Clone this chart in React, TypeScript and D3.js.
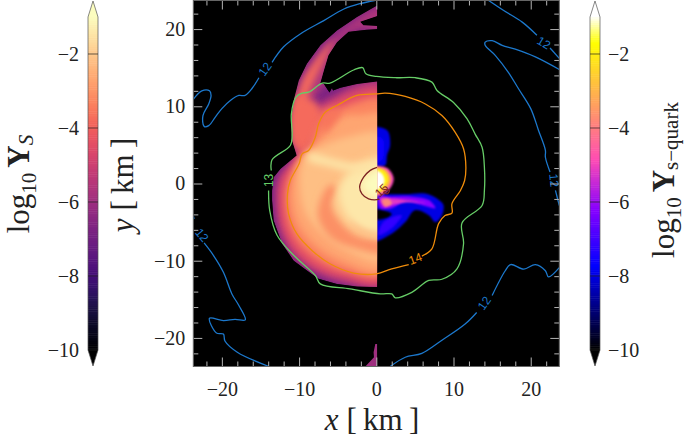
import { useEffect, useRef } from "react";
import * as d3 from "d3";

type Pt = [number, number];

const WIDTH = 685;
const HEIGHT = 435;

const axisMajor = [-20, -10, 0, 10, 20];
const axisMinor = d3.range(-22, 23, 2).filter((d) => d % 10 !== 0);
const barTicks = [-2, -4, -6, -8, -10];

// gnuplot2 colormap stops
const gnuplotStops = [0, 0.25, 0.42, 0.57, 0.92, 1];
const gnuplotColors = ["#000000", "#0000ff", "#8700ff", "#ff4cb3", "#ffff00", "#ffffff"];

// left half: log10 Y_S, outline of the ejecta in km
const armAndDisc: Pt[] = [
  [0.1, 23.06], [-2.5, 21.55], [-5.1, 19.8], [-7.25, 17.9], [-9, 15.5], [-10.05, 13.35], [-10.7, 10.75],
  [-11.05, 8.16], [-10.9, 5.57], [-10.3, 3.63], [-11.1, 2.98], [-12.4, 1.9], [-13.3, 0.82], [-13.5, -0.9],
  [-13.5, -2.2], [-13.3, -4.8], [-12.2, -7.8], [-10.7, -10], [-8.1, -11.9], [-7.5, -12.35], [-5.1, -13],
  [-2.5, -13.35], [0.1, -13.4], [0.1, 13.2], [-2.5, 12.9], [-4.66, 12.4], [-5.6, 12.05], [-5.74, 12.4],
  [-6.05, 11.8], [-6.8, 12.9], [-7.25, 13], [-6.8, 14.6], [-6.2, 16.6], [-5.1, 18.3], [-3.6, 19.66],
  [-1.25, 19.9], [0.1, 20], [0.1, 20.4], [-1.68, 20.5], [-2.1, 20.96], [0.1, 21.7],
];
const bottomPatch: Pt[] = [[0.1, -20.8], [-0.13, -20.8], [-0.35, -21.85], [-0.3, -22.5], [-1.42, -23.7], [0.1, -23.7]];
const outlineValue = -6.8;
const bottomPatchValue = -6;

const leftValues = [-5.7, -3.8, -5.4, -4.4, -3.8, -3.3, -2.7, -3.6, -2.2, -3.1, -1.9, -2.7, -1.45, -1.5, -1.05];
const leftBlobs: Pt[][] = [
  [[1, 23], [-5, 19.5], [-8, 16], [-10, 12.5], [-10.8, 8], [-10.5, 4], [-8, 6], [-8, 11], [-6.5, 13], [-6, 16], [-4, 19], [-2, 20], [1, 19.9]],
  [[-5.5, 18.6], [-8, 15.8], [-9.7, 13], [-10.5, 9], [-10.5, 5], [-9.2, 5], [-9.2, 9], [-8.8, 11.5], [-7.5, 14.5]],
  [[1, 13], [-3, 12.7], [-5, 11.6], [-7, 10.6], [-9, 9], [-10, 5], [-11, 3], [-12.8, 0.5], [-13, -3], [-12.5, -6], [-11, -9], [-8, -11.4], [-4, -12.9], [1, -13.1]],
  [[1, 12], [-3, 11.7], [-5, 10.8], [-7.5, 9], [-8.7, 7], [-9.5, 5], [-10.5, 3], [-12.2, 0.5], [-12.5, -3], [-12, -6], [-10.5, -8.7], [-8, -10.8], [-4, -12.2], [1, -12.6]],
  [[-10.3, 11.46], [-10.97, 9.74], [-11.05, 7.15], [-10.3, 4.56], [-9.67, 3.9], [-7.94, 6.28], [-7.08, 8.87], [-7.94, 10.6], [-9.24, 11.03]],
  [[1, 10.8], [-3, 10.4], [-5.5, 9.2], [-7.5, 7.5], [-8.7, 4.5], [-10, 3], [-11.5, 0], [-11.7, -3], [-11, -6], [-9.5, -8.3], [-7, -10.2], [-4, -11.4], [1, -11.8]],
  [[1, 8.9], [-2, 8.9], [-4.5, 8.66], [-6.65, 6.3], [-8.8, 4.1], [-9.9, 3], [-10.75, 0.67], [-10.97, -2.35], [-10.1, -5.4], [-7.94, -8], [-4.5, -10.1], [1, -11.2]],
  [[-7.08, 7.58], [-7.3, 8.87], [-6.2, 9.74], [-4.5, 9.5], [-5.35, 8], [-6.65, 6.7]],
  [[1, 6.3], [-3.6, 6.07], [-6.2, 5.2], [-8.8, 3.9], [-9.67, 2.4], [-9.9, -0.2], [-9.24, -3.65], [-6.9, -6.67], [-3.6, -8.83], [1, -9.9]],
  [[-6, -0.2], [-7.3, -2.35], [-7.5, -4.5], [-5.8, -7.1], [-2.76, -8.4], [1, -9], [1, -7.5], [-2.33, -6.9], [-4.7, -4.94], [-5.8, -2.8], [-5.14, -0.63]],
  [[1, 3.7], [-3.6, 1.96], [-4.7, -0.2], [-5.35, -2.35], [-4.27, -4.5], [-2.1, -6.24], [1, -6.9]],
  [[-3, -4.94], [-1.47, -6.24], [1, -6.46], [1, -5.6], [-1.47, -5.4], [-2.76, -4.08]],
  [[1, 2.83], [-3.2, 1.5], [-4.7, -0.63], [-4.27, -3.2], [-2.55, -5.4], [1, -6.24]],
  [[-8.8, 3.9], [-5.8, 3.26], [-2.76, 2.6], [1, 2.6], [1, 1.75], [-3.2, 1.5], [-6.2, 2.2], [-8.8, 3]],
  [[1, 2], [-1.9, -0.2], [1, -2.1]],
];

// right half: log10 Y_s-quark
const rightValues = [-8, -7.6, -8, -10, -7.2, -6.2, -5.2, -3.9, -5, -3.2, -2, -1];
const rightBlobs: Pt[][] = [
  [[-0.5, 7.15], [1.4, 6.9], [1.8, 5], [1.4, 3.7], [1.2, 2.4], [0.5, 2.2], [-0.5, 2.2]],
  [[-0.5, 6], [0.8, 5.8], [1, 4.4], [0.7, 3], [-0.5, 2.6]],
  [[-0.5, -1.7], [1.6, -1.4], [3.75, -1.4], [6.35, -1.3], [8.07, -2.1], [8.7, -2.8], [8.5, -4.1], [7.65, -5], [6.8, -4.1], [5, -3.45], [3.75, -5], [2, -6.5], [-0.5, -7.4]],
  [[-0.5, -3.4], [1, -3.5], [2, -3.95], [1.5, -4.4], [-0.5, -4.6]],
  [[0.95, -4.95], [3.3, -4.1], [2, -5.8], [0.3, -6.67]],
  [[0.3, -1.7], [2, -1.7], [4.6, -1.7], [6.8, -2.15], [7.65, -3.2], [5.9, -2.8], [3.75, -2.3], [2, -3.2], [0.5, -3.2]],
  [[0.5, -1.9], [1.6, -1.9], [3.75, -2.1], [6.35, -2.55], [3.75, -2.45], [2, -2.8], [1, -3]],
  [[0.73, -2.15], [1.6, -2], [2, -2.6], [1.17, -3]],
  [[-0.5, 2.05], [1.4, 2], [2.25, 0.67], [1.8, -0.63], [0.73, -1.5], [-0.5, -1.5]],
  [[-0.5, 1.95], [1.2, 1.8], [1.9, 0.6], [1.5, -0.5], [0.6, -1.25], [-0.5, -1.3]],
  [[-0.5, 1.9], [1.05, 1.6], [1.55, 0.5], [1.05, -0.45], [0.45, -1.05], [-0.5, -1.05]],
  [[-0.5, 1.75], [0.7, 1.3], [1.05, 0.3], [0.5, -0.6], [-0.5, -0.8]],
];

// density contours, log10 rho
const contour12: Pt[][] = [
  [[-0.2, 23.7], [-2.07, 23.3], [-4.2, 22.6], [-6.8, 21.1], [-9.8, 19.4], [-12, 17.7], [-13.5, 15.7]],
  [[-15.2, 13.7], [-16.1, 12.3], [-17, 11.4], [-17.8, 11.4], [-18.9, 10.75], [-20, 9.7], [-20.85, 8.6], [-21.7, 7.5], [-22.3, 7.4], [-22.45, 8.8], [-21.7, 10.3], [-21.4, 11.4], [-21.6, 12], [-22.6, 12], [-23.7, 10.9]],
  [[-23.7, -4.2], [-23.6, -4.6]],
  [[-22.3, -7.7], [-21.1, -9.3], [-19.8, -11.5], [-18.7, -14.3], [-17.8, -15.8], [-16.97, -17.66], [-18.3, -17.6], [-19.8, -17.75], [-21.6, -17.45], [-20.7, -19.35], [-19.8, -19.5], [-19.6, -20.4], [-18, -21.85], [-13.9, -23.7]],
  [[14.55, 23.7], [16.5, 22.4], [18.9, 20.9], [20.8, 19.2]],
  [[22.5, 17.55], [23.7, 16.2]],
  [[23.7, 14.77], [20.6, 16.4], [18, 17.4], [16.3, 17.9], [15, 18.5], [14.1, 18.3], [14.1, 17.9], [15.4, 16.6], [17.1, 14.4], [18.4, 12.3], [20, 9.7], [21, 6.9], [21.9, 4.3], [21.9, 3.4], [22.5, 1.5]],
  [[23.2, -0.9], [23.7, -2.85]],
  [[23.7, -10.9], [22.3, -12.1], [21.9, -11.3], [20.6, -10.5], [19.1, -11.1], [17.4, -10.5], [16.7, -11.3], [15, -14.5]],
  [[13, -16.7], [11.5, -18.2], [8.5, -20.3], [5.9, -22], [3.75, -22.5], [1.8, -23.7]],
];
const contour13: Pt[][] = [
  [[-13.6, 1.68], [-13.5, 3.07], [-11.14, 4.92], [-10.9, 6.43], [-11, 9], [-10.4, 11.2], [-9.6, 11.7], [-8.77, 11.83], [-7, 13], [-6, 13], [-2.94, 14.7], [-1.77, 15], [-1.34, 14.2], [0, 13.86], [2.46, 13.7], [5.05, 13.7], [7.2, 13.13], [7.86, 12.05], [10, 10.5], [11.74, 8.4], [12.8, 6.4], [13.7, 4.7], [14, 2.1], [14, -0.9], [13.7, -2.85], [11.1, -5.1], [11.3, -7.8], [10.45, -11.05], [8.5, -12.4], [6.8, -12.56], [4.6, -14.1], [2.46, -14.8], [2, -14.3], [0.52, -14.3], [-3.4, -13.65], [-7.25, -13], [-7.9, -11.9], [-10.7, -9.3], [-12.85, -6.7], [-13.8, -3.5], [-13.95, -0.9]],
];
const contour14: Pt[][] = [
  [[5.9, -9.4], [7.2, -8.46], [8.07, -5.2], [8.9, -4.15], [9.8, -3.84], [9.8, -2.6], [10.9, -0.9], [11.44, 0.39], [11.6, 2.1], [11.3, 4.5], [10.2, 6.65], [8.5, 8.8], [6.35, 10.3], [3.75, 11.27], [1.17, 11.7], [0, 11.6], [-2.5, 11.4], [-5.1, 10.1], [-6.6, 9.24], [-7.47, 7.73], [-7.9, 6], [-8.77, 4.27], [-9.6, 3.84], [-10, 2.55], [-11.14, 0.39], [-11.5, -1.34], [-11.36, -3.93], [-10.3, -6.5], [-8.3, -8.7], [-6, -10.4], [-2.94, -11.6], [0, -11.7], [2, -11.05], [4.2, -10.5]],
];
const contour15: Pt[][] = [
  [[0.09, 2.1], [-0.78, 1.7], [-1.64, 0.82], [-2.16, -0.47], [-1.86, -1.34], [-1, -1.99], [0.09, -2.1], [0.4, -2]],
  [[0.9, -0.8], [1.7, -0.9], [1.4, -1.35], [0.9, -1.1]],
];

const contourLevels = [12, 13, 14, 15];
const contourLines = [contour12, contour13, contour14, contour15];
const contourColors = ["#1c78cc", "#66cc66", "#ef8c0a", "#7d2222"];

const labelLevels = [12, 12, 12, 12, 12, 13, 14, 15];
const labelX = [-14.4, -22.6, 21.7, 23, 14, -13.85, 5.05, 0.7];
const labelY = [14.8, -6.7, 18.2, 0.4, -15.5, 0.4, -9.76, -0.9];
const labelAngle = [-55, 50, 30, 85, -55, -90, -20, -45];

function Magma(v: number) {
  return d3.interpolateMagma(Math.max(0, (v + 10) / 9));
}

const gnuplot2 = d3
  .scaleLinear<string>()
  .domain(gnuplotStops)
  .range(gnuplotColors)
  .interpolate(d3.interpolateRgb);

function Gnuplot(v: number) {
  return gnuplot2((v + 10) / 9);
}

export default function App() {
  const ref = useRef<SVGSVGElement>(null);

  useEffect(() => {
    const svg = d3.select(ref.current);
    svg.selectAll("*").remove();

    const x = d3.scaleLinear().domain([-23.7, 23.7]).range([193.3, 559.3]);
    const y = d3.scaleLinear().domain([-23.7, 23.7]).range([366.5, 0.5]);
    const barY = d3.scaleLinear().domain([-10, -1]).range([350, 17]);
    const serif = "'Liberation Serif', serif";

    const defs = svg.append("defs");
    const blur = defs.append("filter").attr("id", "soft").attr("x", "-40%").attr("y", "-40%").attr("width", "180%").attr("height", "180%");
    blur.append("feGaussianBlur").attr("stdDeviation", 3.5);
    const blurSmall = defs.append("filter").attr("id", "softer").attr("x", "-30%").attr("y", "-30%").attr("width", "160%").attr("height", "160%");
    blurSmall.append("feGaussianBlur").attr("stdDeviation", 1);

    const closedLine = d3.line<Pt>().x((d) => x(d[0])).y((d) => y(d[1]));
    const blobLine = d3.line<Pt>().x((d) => x(d[0])).y((d) => y(d[1])).curve(d3.curveCatmullRomClosed);

    defs.append("clipPath").attr("id", "leftHalf").append("path")
      .attr("d", closedLine(armAndDisc) + "Z");
    defs.append("clipPath").attr("id", "rightHalf").append("rect")
      .attr("x", x(0.1)).attr("y", y(23.7)).attr("width", x(23.7) - x(0.1)).attr("height", y(-23.7) - y(23.7));
    defs.append("clipPath").attr("id", "frame").append("rect")
      .attr("x", x(-23.7)).attr("y", y(23.7)).attr("width", x(23.7) - x(-23.7)).attr("height", y(-23.7) - y(23.7));

    // background
    svg.append("rect").attr("x", x(-23.7)).attr("y", y(23.7)).attr("width", x(23.7) - x(-23.7)).attr("height", y(-23.7) - y(23.7)).attr("fill", "#000");

    // right half first, left half sits on top of the seam
    const right = svg.append("g").attr("clip-path", "url(#rightHalf)");
    right.selectAll("path").data(rightBlobs).join("path")
      .attr("d", (d) => blobLine(d))
      .attr("fill", (_, i) => Gnuplot(rightValues[i]))
      .attr("filter", "url(#softer)");

    const left = svg.append("g").attr("clip-path", "url(#leftHalf)");
    left.append("path").attr("d", closedLine(armAndDisc) + "Z").attr("fill", Magma(outlineValue));
    left.selectAll("path.blob").data(leftBlobs).join("path")
      .attr("class", "blob")
      .attr("d", (d) => blobLine(d))
      .attr("fill", (_, i) => Magma(leftValues[i]))
      .attr("filter", "url(#soft)");
    svg.append("path").attr("d", closedLine(bottomPatch) + "Z").attr("fill", Magma(bottomPatchValue));

    // contours
    const contourPath = d3.line<Pt>().x((d) => x(d[0])).y((d) => y(d[1])).curve(d3.curveCatmullRom);
    const contours = svg.append("g").attr("clip-path", "url(#frame)").attr("fill", "none").attr("stroke-width", 1.3);
    contourLevels.forEach((_, i) => {
      contours.selectAll(`path.c${i}`).data(contourLines[i]).join("path")
        .attr("class", `c${i}`)
        .attr("d", (d) => contourPath(d))
        .attr("stroke", contourColors[i]);
    });
    svg.append("g").selectAll("text").data(labelLevels).join("text")
      .attr("transform", (_, i) => `translate(${x(labelX[i])},${y(labelY[i])}) rotate(${labelAngle[i]})`)
      .attr("text-anchor", "middle")
      .attr("dominant-baseline", "central")
      .attr("font-family", "'Liberation Sans', sans-serif")
      .attr("font-size", 12)
      .attr("fill", (d) => contourColors[contourLevels.indexOf(d)])
      .text((d) => d);

    // frame and ticks (inside, grey)
    const tickGrey = "#b4b4b4";
    const minusFmt = (d: d3.NumberValue) => String(d).replace("-", "\u2212");
    const drawAxis = (g: d3.Selection<SVGGElement, unknown, null, undefined>, labels: boolean) => {
      g.select(".domain").remove();
      g.selectAll("line").attr("stroke", tickGrey).attr("stroke-width", 1);
      g.selectAll("text")
        .attr("fill", labels ? "#222" : "none")
        .attr("font-family", serif)
        .attr("font-size", 20);
    };
    svg.append("g").attr("transform", `translate(0,${y(-23.7)})`)
      .call(d3.axisBottom(x).tickValues(axisMajor).tickSize(-9).tickPadding(15).tickFormat(minusFmt))
      .call((g) => drawAxis(g, true));
    svg.append("g").attr("transform", `translate(0,${y(-23.7)})`)
      .call(d3.axisBottom(x).tickValues(axisMinor).tickSize(-5).tickFormat(() => ""))
      .call((g) => drawAxis(g, false));
    svg.append("g").attr("transform", `translate(0,${y(23.7)})`)
      .call(d3.axisTop(x).tickValues(axisMajor).tickSize(-9).tickFormat(() => ""))
      .call((g) => drawAxis(g, false));
    svg.append("g").attr("transform", `translate(0,${y(23.7)})`)
      .call(d3.axisTop(x).tickValues(axisMinor).tickSize(-5).tickFormat(() => ""))
      .call((g) => drawAxis(g, false));
    svg.append("g").attr("transform", `translate(${x(-23.7)},0)`)
      .call(d3.axisLeft(y).tickValues(axisMajor).tickSize(-9).tickPadding(8).tickFormat(minusFmt))
      .call((g) => drawAxis(g, true));
    svg.append("g").attr("transform", `translate(${x(-23.7)},0)`)
      .call(d3.axisLeft(y).tickValues(axisMinor).tickSize(-5).tickFormat(() => ""))
      .call((g) => drawAxis(g, false));
    svg.append("g").attr("transform", `translate(${x(23.7)},0)`)
      .call(d3.axisRight(y).tickValues(axisMajor).tickSize(-9).tickFormat(() => ""))
      .call((g) => drawAxis(g, false));
    svg.append("g").attr("transform", `translate(${x(23.7)},0)`)
      .call(d3.axisRight(y).tickValues(axisMinor).tickSize(-5).tickFormat(() => ""))
      .call((g) => drawAxis(g, false));
    svg.append("rect").attr("x", x(-23.7)).attr("y", y(23.7)).attr("width", x(23.7) - x(-23.7)).attr("height", y(-23.7) - y(23.7))
      .attr("fill", "none").attr("stroke", "#666").attr("stroke-width", 1);

    // colorbars
    const drawBar = (bx: number, bw: number, cmap: (v: number) => string, anchor: string, lx: number) => {
      const g = svg.append("g");
      const steps = d3.range(-10, -1, 0.05);
      g.selectAll("rect").data(steps).join("rect")
        .attr("x", bx)
        .attr("width", bw)
        .attr("y", (d) => barY(d + 0.05))
        .attr("height", (d) => barY(d) - barY(d + 0.05) + 0.5)
        .attr("fill", (d) => cmap(d));
      const mid = bx + bw / 2;
      const top = barY(-1);
      const bottom = barY(-10);
      g.append("path").attr("d", `M${bx},${top}L${mid},1L${bx + bw},${top}Z`).attr("fill", cmap(-1));
      g.append("path").attr("d", `M${bx},${bottom}L${mid},366L${bx + bw},${bottom}Z`).attr("fill", "#000");
      g.append("path")
        .attr("d", `M${bx},${top}L${mid},1L${bx + bw},${top}L${bx + bw},${bottom}L${mid},366L${bx},${bottom}Z`)
        .attr("fill", "none").attr("stroke", "#555").attr("stroke-width", 0.7);
      g.selectAll("line").data(barTicks).join("line")
        .attr("x1", bx).attr("x2", bx + bw)
        .attr("y1", (d) => barY(d)).attr("y2", (d) => barY(d))
        .attr("stroke", "#222").attr("stroke-width", 0.7);
      g.selectAll("text").data(barTicks).join("text")
        .attr("x", lx)
        .attr("y", (d) => barY(d) + 7)
        .attr("text-anchor", anchor)
        .attr("font-family", serif)
        .attr("font-size", 20)
        .attr("fill", "#222")
        .text((d) => minusFmt(d));
    };
    drawBar(88, 10, Magma, "end", 79);
    drawBar(590, 10, Gnuplot, "start", 608);

    // axis and colorbar titles
    const title = (tx: number, ty: number, rotate: number) =>
      svg.append("text")
        .attr("transform", `translate(${tx},${ty}) rotate(${rotate})`)
        .attr("text-anchor", "middle")
        .attr("font-family", serif)
        .attr("font-size", 31)
        .attr("fill", "#222");

    const xt = title(372, 429.5, 0);
    xt.append("tspan").attr("font-style", "italic").text("x");
    xt.append("tspan").attr("dx", 8).text("[\u2009km\u2009]");

    const yt = title(133, 185, -90);
    yt.append("tspan").attr("font-style", "italic").text("y");
    yt.append("tspan").attr("dx", 8).text("[\u2009km\u2009]");

    const lt = title(29, 184, -90);
    lt.append("tspan").text("log");
    lt.append("tspan").attr("font-size", 21).attr("dy", 7).text("10");
    lt.append("tspan").attr("font-weight", "bold").attr("dy", -7).attr("dx", 5).text("Y");
    lt.append("tspan").attr("font-style", "italic").attr("font-size", 21).attr("dy", 4).text("S");

    const rt = title(674, 180, -90);
    rt.append("tspan").text("log");
    rt.append("tspan").attr("font-size", 21).attr("dy", 7).text("10");
    rt.append("tspan").attr("font-weight", "bold").attr("dy", -7).attr("dx", 5).text("Y");
    rt.append("tspan").attr("font-size", 21).attr("dy", 4).text("s\u2212quark");
  }, []);

  return (
    <svg
      ref={ref}
      width={WIDTH}
      height={HEIGHT}
      style={{ position: "fixed", left: 0, top: 0, background: "#fff" }}
    />
  );
}
